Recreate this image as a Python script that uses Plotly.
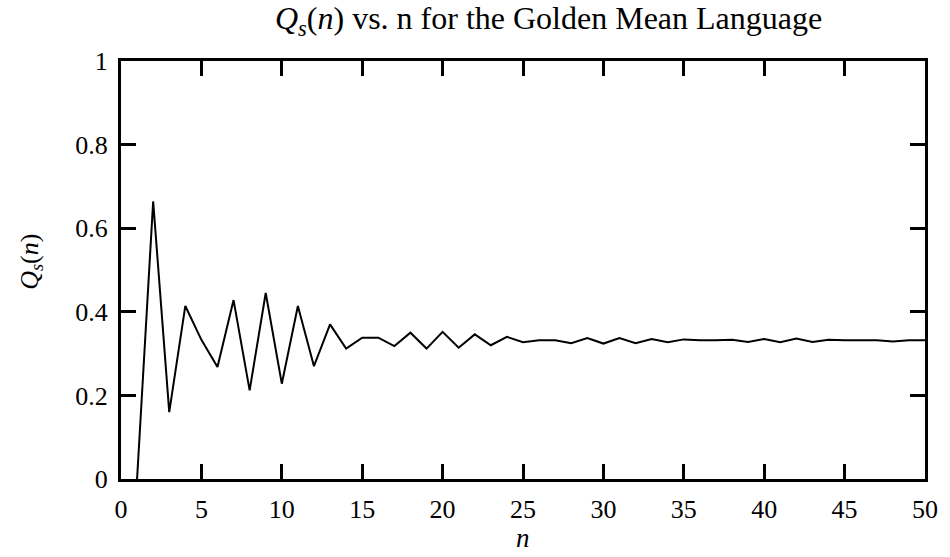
import plotly.graph_objects as go

# Q_s(n) for the golden mean language, n = 1..50
n_values = list(range(1, 51))
q_values = [
    0.0, 0.664, 0.16, 0.414, 0.333, 0.268, 0.428, 0.212, 0.445, 0.228,
    0.414, 0.270, 0.370, 0.312, 0.338, 0.338, 0.318, 0.350, 0.312, 0.352,
    0.314, 0.346, 0.320, 0.340, 0.327, 0.332, 0.332, 0.325, 0.337, 0.324,
    0.337, 0.325, 0.335, 0.327, 0.334, 0.332, 0.332, 0.333, 0.328, 0.335,
    0.327, 0.336, 0.328, 0.333, 0.332, 0.332, 0.332, 0.329, 0.332, 0.332,
]
x_ticks = [0, 5, 10, 15, 20, 25, 30, 35, 40, 45, 50]
y_ticks = [0, 0.2, 0.4, 0.6, 0.8, 1]

W, H = 950, 557
L, R, T, B = 121, 18, 61, 78
FONT = "Liberation Serif"

fig = go.Figure()
fig.add_trace(go.Scatter(
    x=n_values, y=q_values, mode="lines",
    line=dict(color="black", width=2), hoverinfo="x+y",
))

axis_common = dict(
    showline=True, linecolor="black", linewidth=3, mirror="ticks",
    ticks="inside", ticklen=15, tickwidth=3, tickcolor="black",
    showgrid=False, zeroline=False,
    tickfont=dict(family=FONT, size=26, color="black"),
)
fig.update_xaxes(range=[0, 50], tickvals=x_ticks, ticklabelstandoff=5, **axis_common)
fig.update_yaxes(range=[0, 1], tickvals=y_ticks, ticklabelstandoff=5, **axis_common)

plot_w = W - L - R
plot_h = H - T - B
fig.update_layout(
    width=W, height=H,
    margin=dict(l=L, r=R, t=T, b=B),
    paper_bgcolor="white", plot_bgcolor="white",
    showlegend=False,
    annotations=[
        dict(text="<i>Q<sub>s</sub></i>(<i>n</i>) vs. n for the Golden Mean Language",
             xref="paper", yref="paper",
             x=(552 - L) / plot_w, y=1 + (T - 21) / plot_h,
             xanchor="center", yanchor="middle", showarrow=False,
             font=dict(family=FONT, size=32, color="black")),
        dict(text="<i>Q<sub>s</sub></i>(<i>n</i>)",
             xref="paper", yref="paper",
             x=(30 - L) / plot_w, y=(H - B - 262) / plot_h,
             xanchor="center", yanchor="middle", textangle=-90, showarrow=False,
             font=dict(family=FONT, size=26, color="black")),
        dict(text="<i>n</i>",
             xref="paper", yref="paper",
             x=(526 - L) / plot_w, y=-(538 - (H - B)) / plot_h,
             xanchor="center", yanchor="middle", showarrow=False,
             font=dict(family=FONT, size=27, color="black")),
    ],
)

fig.write_html("out.html")
